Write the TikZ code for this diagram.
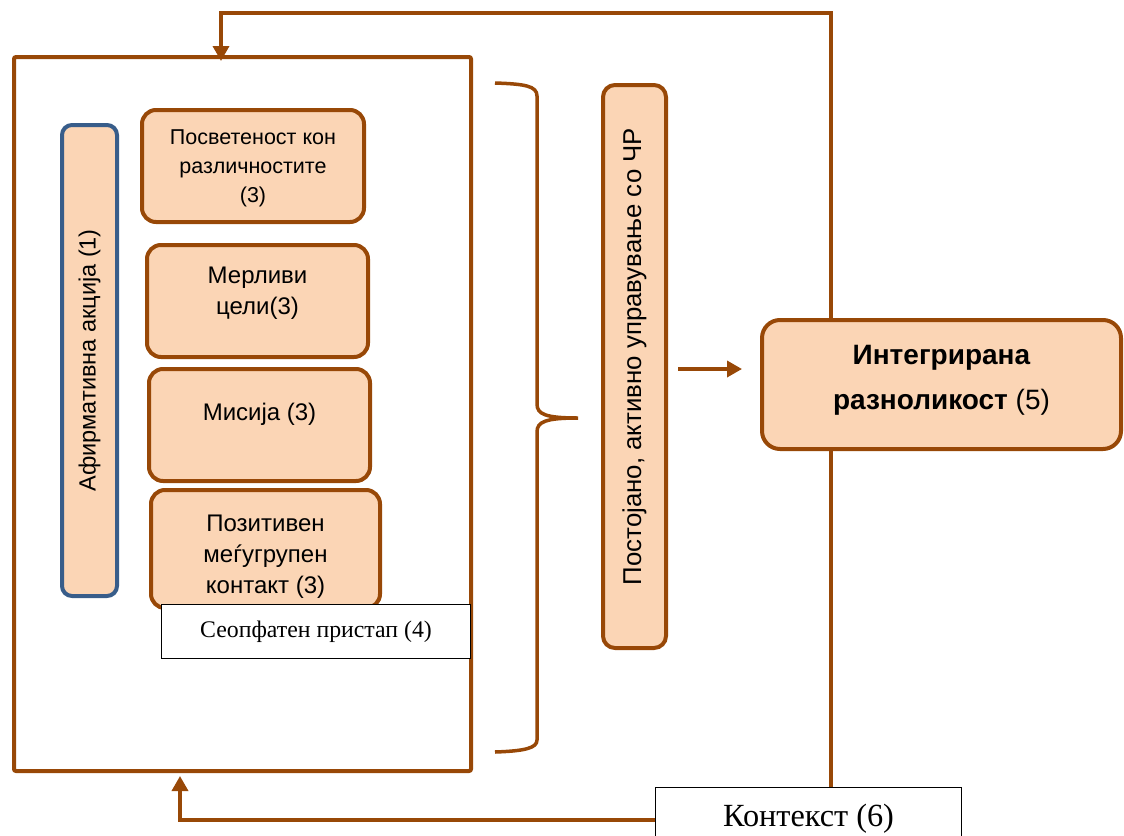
\documentclass[tikz,border=0pt]{standalone}
\usepackage{fontspec}
\setmainfont{Liberation Sans}
\newfontfamily\timesfont{Liberation Serif}
\usetikzlibrary{arrows.meta}
\definecolor{brn}{RGB}{152,72,7}
\definecolor{peach}{RGB}{251,213,181}
\definecolor{slateblue}{RGB}{56,93,138}

\begin{document}
\begin{tikzpicture}[x=1pt,y=-1pt,
  pbox/.style={draw=brn,fill=peach,line width=4pt,rounded corners=14pt,inner sep=0pt},
  wbox/.style={draw=black,fill=white,line width=1.3pt,inner sep=0pt},
  link/.style={draw=brn,line width=3.5pt},
  arr/.style={link,-{Triangle[width=16pt,length=15pt]}},
  txt/.style={align=center,inner sep=0pt}]
\useasboundingbox (0,0) rectangle (1124,835);
%frame
\node[draw=brn,line width=4pt,rounded corners=2pt,minimum width=457pt,minimum height=714pt] (frame) at (242.5,414) {};
\node[pbox,draw=slateblue,rounded corners=10pt,minimum width=55pt,minimum height=471pt] (aff) at (89.5,360.5) {};
\node[txt,rotate=90,font=\fontsize{23.5}{28}\selectfont] (afftext) at (aff.center) {Афирмативна акција (1)};
%boxes (3)
\node[pbox,minimum width=222pt,minimum height=112pt] (commit) at (253,166) {};
\node[txt,font=\fontsize{21.5}{29}\selectfont] (committext) at ([yshift=-2pt]commit.center) {Посветеност кон\\различностите\\(3)};
\node[pbox,minimum width=221pt,minimum height=112pt] (goals) at (257.5,301) {};
\node[txt,font=\fontsize{24}{31}\selectfont] (goalstext) at ([yshift=8pt]goals.center) {Мерливи\\цели(3)};
\node[pbox,minimum width=221pt,minimum height=112pt] (mission) at (259.5,425) {};
\node[txt,font=\fontsize{24}{31}\selectfont] (missiontext) at ([yshift=11pt]mission.center) {Мисија (3)};
\node[pbox,minimum width=229pt,minimum height=118pt] (contact) at (265.5,549) {};
\node[txt,font=\fontsize{24}{31}\selectfont] (contacttext) at ([yshift=-8pt]contact.center) {Позитивен\\меѓугрупен\\контакт (3)};
\node[wbox,minimum width=309pt,minimum height=54pt,font=\timesfont\fontsize{23.8}{27}\selectfont] (approach) at (316,631.5) {Сеопфатен пристап (4)};
%brace
\draw[link] (495,83) .. controls (525,84) and (537,86) .. (537,96) -- (537,404) .. controls (537,414) and (545,418) .. (578,418) .. controls (545,418) and (537,422) .. (537,432) -- (537,740) .. controls (537,748) and (525,751) .. (495,752);
%right side
\node[pbox,rounded corners=12pt,minimum width=63pt,minimum height=563pt] (hrm) at (634.5,366.5) {};
\node[txt,rotate=90,font=\fontsize{25.8}{30}\selectfont] (hrmtext) at ([yshift=10pt]hrm.center) {Постојано, активно управување со ЧР};
\node[pbox,rounded corners=18pt,minimum width=359pt,minimum height=129pt] (integ) at (941.5,384.5) {};
\node[txt,font=\fontsize{28}{45}\selectfont] (integtext) at ([yshift=4pt]integ.center) {\textbf{Интегрирана}\\\textbf{разноликост} (5)};
\node[wbox,minimum width=306pt,minimum height=62pt,font=\timesfont\fontsize{32.3}{36}\selectfont] (ctx) at (808.5,818.5) {Контекст (6)};
%connectors
\coordinate (tr) at (831,13);
\coordinate (tl) at (221,13);
\coordinate (bl) at (180,820);
\coordinate (mid) at (0,369);
\draw[arr] (integ.north -| tr) -- (tr) -- (tl) -- ([yshift=-6pt]frame.north -| tl);
\draw[link] (integ.south -| tr) -- (ctx.north -| tr);
\draw[arr] (ctx.west |- bl) -- (bl) -- ([yshift=-3pt]frame.south -| bl);
\draw[arr] ([xshift=10pt]hrm.east |- mid) -- ([xshift=-18pt]integ.west |- mid);
\end{tikzpicture}
\end{document}
